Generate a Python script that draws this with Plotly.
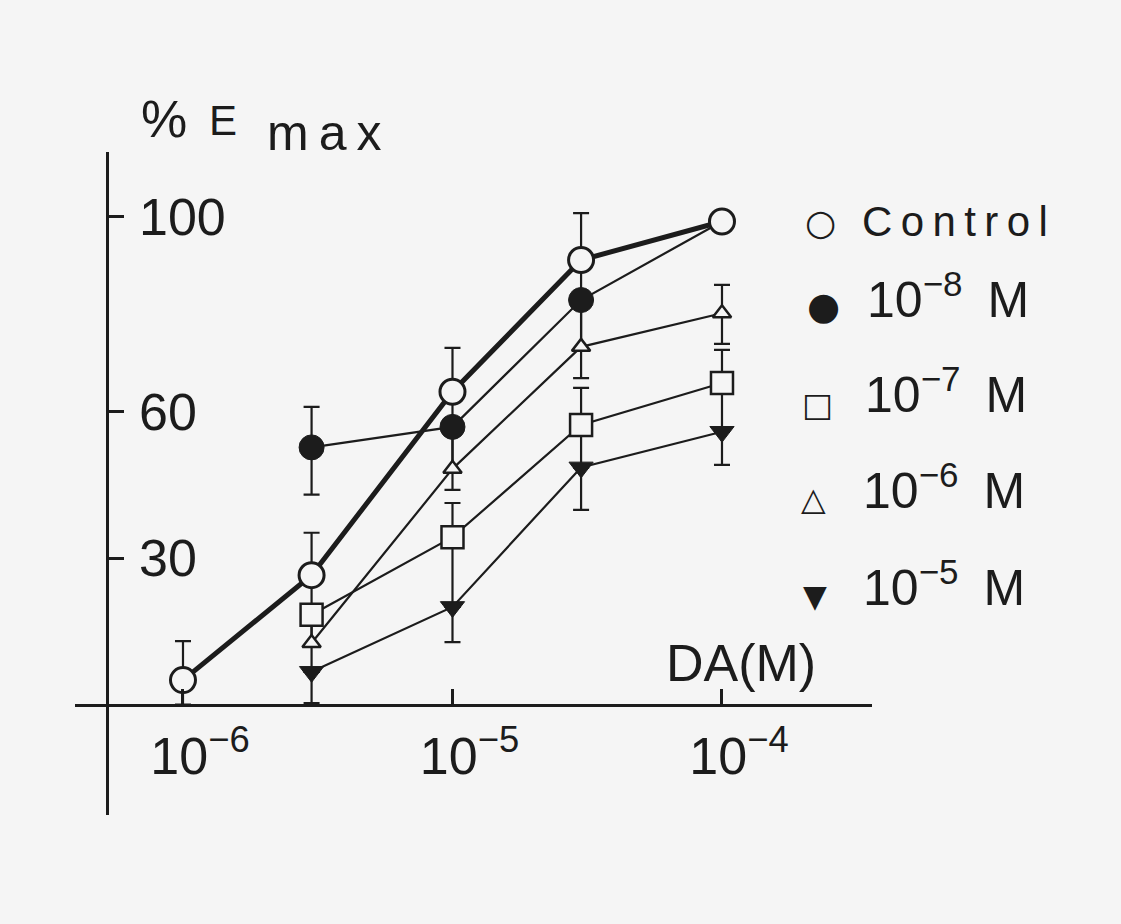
import plotly.graph_objects as go

# ---------------- data ----------------
dose_control = [1e-6, 3e-6, 1e-5, 3e-5, 1e-4]
dose_drug = [3e-6, 1e-5, 3e-5, 1e-4]

control = [5.0, 26.5, 64.1, 91.1, 99.0]
control_up = [8.0, 8.7, 9.0, 9.6, 0]
control_dn = [5.0, 8.1, 7.2, 8.2, 0]

m8 = [52.7, 56.9, 82.9, 99.0]
m8_up = [8.3, 0, 0, 0]
m8_dn = [9.7, 9.2, 10.2, 0]

m7 = [18.4, 34.3, 57.3, 65.9]
m7_up = [0, 7.0, 7.6, 6.8]
m7_dn = [6.4, 14.3, 8.7, 10.0]

m6 = [12.6, 48.3, 73.3, 80.2]
m6_up = [5.8, 8.6, 9.6, 5.8]
m6_dn = [5.9, 4.3, 6.4, 6.3]

m5 = [6.7, 20.0, 48.6, 55.9]
m5_up = [0, 0, 0, 0]
m5_dn = [6.4, 7.2, 8.7, 6.8]

y_tickvals = [30, 60, 100]
y_ticktext = ["30", "60", "100"]
x_tickvals = [1e-6, 1e-5, 1e-4]
x_ticktext = ["10<sup>\u22126</sup>", "10<sup>\u22125</sup>", "10<sup>\u22124</sup>"]

legend_labels = ["C\u2009o\u2009n\u2009t\u2009r\u2009o\u2009l", "10<sup>\u22128</sup>\u2002M",
                 "10<sup>\u22127</sup>\u2002M", "10<sup>\u22126</sup>\u2002M", "10<sup>\u22125</sup>\u2002M"]
legend_glyphs = ["\u25CB", "\u25CF", "\u25A1", "\u25B3", "\u25BC"]

# ---------------- style ----------------
INK = "#1c1c1c"
BG = "#f5f5f5"
FONT = "Liberation Sans"

series = [
    # name, x, y, up, dn, symbol, size, fill, line width, outline width
    ("10-5", dose_drug, m5, m5_up, m5_dn, "triangle-down", 21, INK, 2.2, 1),
    ("10-6", dose_drug, m6, m6_up, m6_dn, "triangle-up", 16, BG, 2.2, 2.5),
    ("10-7", dose_drug, m7, m7_up, m7_dn, "square", 22, BG, 2.2, 2.5),
    ("10-8", dose_drug, m8, m8_up, m8_dn, "circle", 25, INK, 2.2, 1),
    ("Control", dose_control, control, control_up, control_dn, "circle", 25, BG, 5.0, 3),
]

fig = go.Figure()

# connecting lines (beneath everything)
for name, x, y, up, dn, sym, size, fill, lw, ow in series:
    fig.add_trace(go.Scatter(x=x, y=y, mode="lines", line=dict(color=INK, width=lw),
                             hoverinfo="skip", showlegend=False))

# error bars
for name, x, y, up, dn, sym, size, fill, lw, ow in series:
    fig.add_trace(go.Scatter(
        x=x, y=y, mode="markers",
        marker=dict(size=1, color="rgba(0,0,0,0)"),
        error_y=dict(type="data", symmetric=False, array=up, arrayminus=dn,
                     color=INK, thickness=2.2, width=8),
        hoverinfo="skip", showlegend=False))

# markers on top
for name, x, y, up, dn, sym, size, fill, lw, ow in series:
    fig.add_trace(go.Scatter(
        x=x, y=y, mode="markers", name=name,
        marker=dict(symbol=sym, size=size, color=fill, line=dict(color=INK, width=ow)),
        showlegend=False))

# plot area in pixels: left 75, right 872, top 152, bottom 815
L, R, T, B = 75, 872, 152, 815
W, H = R - L, B - T


def px(xp):
    return (xp - L) / W


def py(yp):
    return (B - yp) / H


annotations = []


def txt(text, x, y, size, xanchor="left", family=FONT, yref="paper"):
    annotations.append(dict(text=text, x=px(x), y=py(y) if yref == "paper" else y,
                            xref="paper", yref=yref,
                            xanchor=xanchor, yanchor="middle", showarrow=False,
                            font=dict(family=family, size=size, color=INK)))


# y tick labels (to the right of the axis)
for v, t in zip(y_tickvals, y_ticktext):
    txt(t, 137, v, 52, yref="y")

# axis titles
txt("%", 139, 119, 52)
txt("E", 207, 121, 42)
txt("m\u2009a\u2009x", 265, 133, 50)
txt("DA(M)", 664, 663, 52)

# legend
glyph_pos = [(820, 223, 36), (823, 306, 38), (817, 404, 33), (813, 499, 32), (815, 596, 31)]
label_pos = [(860, 222, 42), (865, 296, 50), (863, 391, 50), (861, 487, 50), (861, 584, 50)]
for g, (gx, gy, gs) in zip(legend_glyphs, glyph_pos):
    txt(g, gx, gy, gs, xanchor="center", family="DejaVu Sans")
for lab, (lx, ly, ls) in zip(legend_labels, label_pos):
    txt(lab, lx, ly, ls)

fig.update_layout(
    width=1121, height=924, autosize=False,
    margin=dict(l=L, r=1121 - R, t=T, b=924 - B, pad=0),
    paper_bgcolor=BG, plot_bgcolor=BG,
    font=dict(family=FONT, color=INK),
    showlegend=False,
    annotations=annotations,
    xaxis=dict(type="log", range=[-6.4007, -3.4434], anchor="free", position=py(704.5),
               showline=True, linewidth=3, linecolor=INK, showgrid=False, zeroline=False,
               ticks="inside", ticklen=15, tickwidth=2.5, tickcolor=INK,
               tickvals=x_tickvals, ticktext=x_ticktext,
               tickfont=dict(family=FONT, size=52, color=INK),
               ticklabelshift=17, ticklabelstandoff=5),
    yaxis=dict(range=[(704.5 - B) / 4.879, (704.5 - T) / 4.879], anchor="free", position=px(107),
               showline=True, linewidth=3, linecolor=INK, showgrid=False, zeroline=False,
               ticks="inside", ticklen=15, tickwidth=2.5, tickcolor=INK,
               tickvals=y_tickvals, showticklabels=False),
)

fig.write_html("out.html", config={"displayModeBar": False},
               post_script="document.body.style.margin='0px';")
